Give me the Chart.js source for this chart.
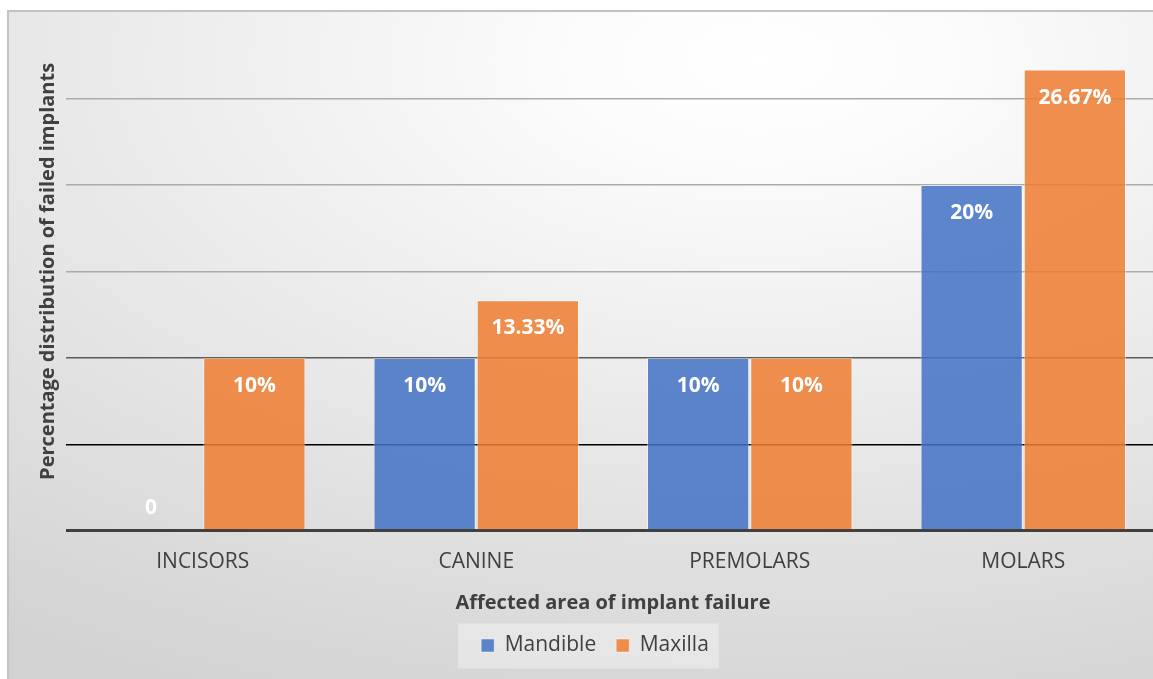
<!DOCTYPE html>
<html>
<head>
<meta charset="utf-8">
<script src="https://cdn.jsdelivr.net/npm/chart.js@4.4.0/dist/chart.umd.min.js"></script>
<style>
  html, body { margin: 0; padding: 0; background: #fff; overflow: hidden; }
  #wrap { position: absolute; left: 0; top: 0; width: 1160px; height: 679px; }
</style>
</head>
<body>
<div id="wrap"><canvas id="chart"></canvas></div>
<script>
const categories = ['INCISORS', 'CANINE', 'PREMOLARS', 'MOLARS'];
const mandible = [0, 10, 10, 20];
const maxilla = [10, 13.33, 10, 26.67];
const mandibleLabels = ['0', '10%', '10%', '20%'];
const maxillaLabels = ['10%', '13.33%', '10%', '26.67%'];
const yTicks = [0, 5, 10, 15, 20, 25, 30];

const textColor = '#404040';

// background: soft radial gradient + top/left border like the office chart frame
const frameBg = {
  id: 'frameBg',
  beforeDraw(chart) {
    const ctx = chart.ctx;
    ctx.save();
    ctx.fillStyle = '#ffffff';
    ctx.fillRect(0, 0, chart.width, chart.height);
    ctx.save();
    ctx.translate(760, 60);
    ctx.scale(1.9, 1);
    const g = ctx.createRadialGradient(0, 0, 0, 0, 0, 700);
    g.addColorStop(0, '#ffffff');
    g.addColorStop(0.15, '#fbfbfb');
    g.addColorStop(1, '#d2d2d2');
    ctx.fillStyle = g;
    ctx.fillRect((8 - 760) / 1.9, 11 - 60, 1200 / 1.9, 700);
    ctx.restore();
    ctx.strokeStyle = '#c3c3c3';
    ctx.lineWidth = 2;
    ctx.beginPath();
    ctx.moveTo(8, chart.height);
    ctx.lineTo(8, 11);
    ctx.lineTo(chart.width, 11);
    ctx.stroke();

    // lighter panel behind the legend
    const boxes = chart.legend && chart.legend.legendHitBoxes;
    if (boxes && boxes.length) {
      const l = Math.min(...boxes.map(b => b.left)) - 23;
      const r = Math.max(...boxes.map(b => b.left + b.width)) + 10;
      const t = boxes[0].top + boxes[0].height / 2 - 22;
      ctx.fillStyle = 'rgba(255,255,255,0.35)';
      ctx.fillRect(l, t, r - l, 45);
    }
    ctx.restore();
  }
};

const barLabels = {
  id: 'barLabels',
  afterDatasetsDraw(chart) {
    const ctx = chart.ctx;
    const sets = [mandibleLabels, maxillaLabels];
    ctx.save();
    ctx.fillStyle = '#ffffff';
    ctx.font = 'bold 21px "Open Sans"';
    ctx.textAlign = 'center';
    ctx.textBaseline = 'middle';
    chart.data.datasets.forEach((ds, i) => {
      chart.getDatasetMeta(i).data.forEach((bar, j) => {
        const y = ds.data[j] === 0 ? bar.y - 23 : bar.y + 28;
        ctx.fillText(sets[i][j], bar.x, y);
      });
    });
    ctx.restore();
  }
};

function gridColor(ctx) {
  const v = ctx.tick && ctx.tick.value;
  if (v === 0) return '#404040';
  if (v === 5) return '#000000';
  if (v === 10) return '#5a5a5a';
  if (v === 30) return 'rgba(0,0,0,0)';
  return '#ababab';
}

new Chart(document.getElementById('chart'), {
  type: 'bar',
  data: {
    labels: categories,
    datasets: [
      {
        label: 'Mandible',
        data: mandible,
        backgroundColor: 'rgba(68,114,196,0.86)',
        borderColor: 'rgba(255,255,255,0.45)',
        borderWidth: 1,
        categoryPercentage: 0.755,
        barPercentage: 0.99
      },
      {
        label: 'Maxilla',
        data: maxilla,
        backgroundColor: 'rgba(237,125,49,0.86)',
        borderColor: 'rgba(255,255,255,0.45)',
        borderWidth: 1,
        categoryPercentage: 0.755,
        barPercentage: 0.99
      }
    ]
  },
  options: {
    responsive: true,
    maintainAspectRatio: false,
    animation: false,
    layout: { padding: { left: 30, right: 0, top: 12, bottom: 13 } },
    plugins: {
      tooltip: { enabled: false },
      legend: {
        position: 'bottom',
        labels: {
          boxWidth: 13,
          boxHeight: 13,
          padding: 20,
          color: textColor,
          font: { family: 'Open Sans', size: 21 }
        }
      }
    },
    scales: {
      x: {
        grid: { display: false, drawTicks: false },
        border: { display: false },
        ticks: {
          color: textColor,
          padding: 19,
          font: { family: 'Open Sans', size: 21 }
        },
        title: {
          display: true,
          text: 'Affected area of implant failure',
          color: textColor,
          padding: { top: -3, bottom: 0 },
          font: { family: 'Open Sans', size: 20, weight: 'bold' }
        }
      },
      y: {
        min: 0,
        max: 30,
        afterBuildTicks(axis) { axis.ticks = yTicks.map(v => ({ value: v })); },
        ticks: { display: false },
        border: { display: false },
        grid: {
          drawTicks: false,
          color: gridColor,
          lineWidth: ctx => (ctx.tick && ctx.tick.value === 0 ? 3 : 1.5)
        },
        title: {
          display: true,
          text: 'Percentage distribution of failed implants',
          color: textColor,
          padding: { top: 6, bottom: 6 },
          font: { family: 'Open Sans', size: 20, weight: 'bold' }
        }
      }
    }
  },
  plugins: [frameBg, barLabels]
});
</script>
</body>
</html>
